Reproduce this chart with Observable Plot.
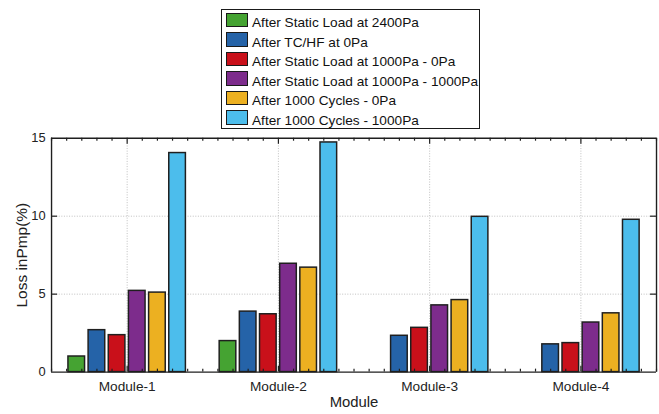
<!DOCTYPE html>
<html>
<head>
<meta charset="utf-8">
<script src="https://cdn.jsdelivr.net/npm/d3@7"></script>
<script src="https://cdn.jsdelivr.net/npm/@observablehq/plot@0.6"></script>
<style>
  html, body { margin: 0; padding: 0; overflow: hidden; background: #fff; }
  #wrap { position: relative; width: 659px; height: 414px; overflow: hidden; font-family: "Liberation Sans", Arial, sans-serif; }
  #chart svg { display: block; }
  #legend { position: absolute; left: 221px; top: 8.5px; width: 259px; height: 120px; box-sizing: border-box; border: 1.3px solid #1a1a1a; background: #fff; }
  .sw { position: absolute; left: 4px; width: 22px; height: 14.5px; box-sizing: border-box; border: 1.4px solid #1a1a1a; }
  .lt { position: absolute; left: 30px; font-size: 13.65px; line-height: 16px; color: #111; white-space: nowrap; }
</style>
</head>
<body>
<div id="wrap">
  <div id="chart"></div>
  <div id="legend"></div>
</div>
<script>
// ---- data ----
const modules = ["Module-1", "Module-2", "Module-3", "Module-4"];
const series = [
  "After Static Load at 2400Pa",
  "After TC/HF at 0Pa",
  "After Static Load at 1000Pa - 0Pa",
  "After Static Load at 1000Pa - 1000Pa",
  "After 1000 Cycles - 0Pa",
  "After 1000 Cycles - 1000Pa"
];
const colors = ["#45a332", "#2563a8", "#c9101a", "#7d2c8c", "#ecb021", "#4cbdec"];
const staticLoad2400 = [1.0, 1.99, null, null];
const tcHf0 = [2.69, 3.88, 2.33, 1.78];
const static1000_0 = [2.37, 3.71, 2.84, 1.86];
const static1000_1000 = [5.21, 6.95, 4.28, 3.18];
const cycles1000_0 = [5.10, 6.70, 4.62, 3.77];
const cycles1000_1000 = [14.05, 14.73, 9.96, 9.77];
const yTicks = [0, 5, 10, 15];
const yLabel = "Loss inPmp(%)";
const xLabel = "Module";

// ---- grouped-bar layout (MATLAB style: 6 bars per group) ----
const seriesValues = [staticLoad2400, tcHf0, static1000_0, static1000_1000, cycles1000_0, cycles1000_1000];
const groupStep = 0.8 / series.length;
const barHalf = 0.055;
const rows = [];
seriesValues.forEach((vals, si) => {
  vals.forEach((v, mi) => {
    if (v == null) return;
    const c = mi + 1 + (si - (series.length - 1) / 2) * groupStep;
    rows.push({series: series[si], module: modules[mi], value: v, x1: c - barHalf, x2: c + barHalf});
  });
});
const xCenters = modules.map((m, i) => i + 1);
const minorX = d3.range(5, 46).map(d => d / 10).filter(d => Math.abs(d - Math.round(d)) > 1e-6);
const innerY = yTicks.filter(d => d > 0 && d < 15);

const ink = "#1f1f1f";
const chart = Plot.plot({
  width: 665,
  height: 414,
  marginLeft: 51.5,
  marginRight: 3,
  marginTop: 139,
  marginBottom: 39,
  x: {domain: [0.5, 4.5], axis: null},
  y: {domain: [0, 15], axis: null},
  color: {domain: series, range: colors},
  style: {fontFamily: '"Liberation Sans", Arial, sans-serif', fontSize: "13.5px", color: "#222", background: "white"},
  marks: [
    // dotted grid
    Plot.ruleY(innerY, {stroke: "#b8b8b8", strokeWidth: 0.9, strokeDasharray: "1,1.6"}),
    Plot.ruleX(xCenters, {stroke: "#b8b8b8", strokeWidth: 0.9, strokeDasharray: "1,1.6"}),
    // bars
    Plot.rectY(rows, {x1: "x1", x2: "x2", y1: 0, y2: "value", fill: "series", stroke: ink, strokeWidth: 1.5}),
    // minor ticks top & bottom
    Plot.ruleX(minorX, {y1: 15, y2: 15 - 0.19, stroke: ink, strokeWidth: 1.2}),
    Plot.ruleX(minorX, {y1: 0, y2: 0.19, stroke: ink, strokeWidth: 1.2}),
    // major x ticks
    Plot.ruleX(xCenters, {y1: 15, y2: 15 - 0.38, stroke: ink, strokeWidth: 1.2}),
    Plot.ruleX(xCenters, {y1: 0, y2: 0.38, stroke: ink, strokeWidth: 1.2}),
    // y ticks left & right
    Plot.ruleY(innerY, {x1: 0.5, x2: 0.54, stroke: ink, strokeWidth: 1.2}),
    Plot.ruleY(innerY, {x1: 4.46, x2: 4.5, stroke: ink, strokeWidth: 1.2}),
    // box
    Plot.ruleY([0, 15], {stroke: ink, strokeWidth: 1.4}),
    Plot.ruleX([0.5, 4.5], {stroke: ink, strokeWidth: 1.4}),
    // tick labels
    Plot.text(yTicks, {x: 0.5, y: d => d, dx: -6, textAnchor: "end", lineAnchor: "middle", text: d => String(d), fontSize: 13, fill: "#222"}),
    Plot.text(modules, {x: (d, i) => i + 1, y: 0, dy: 14.5, lineAnchor: "middle", text: d => d, fontSize: 13.8, fill: "#222"}),
    // axis titles
    Plot.text([xLabel], {frameAnchor: "bottom", dy: 30.6, textAnchor: "middle", lineAnchor: "middle", text: d => d, fontSize: 15, fill: "#222"}),
    Plot.text([yLabel], {frameAnchor: "left", dx: -29.5, rotate: -90, textAnchor: "middle", lineAnchor: "middle", text: d => d, fontSize: 15.6, fill: "#222"})
  ]
});
document.getElementById("chart").appendChild(chart);

// ---- legend ----
const legend = document.getElementById("legend");
const rowStep = 19.55;
series.forEach((s, i) => {
  const sw = document.createElement("div");
  sw.className = "sw";
  sw.style.top = (3.2 + i * rowStep) + "px";
  sw.style.background = colors[i];
  legend.appendChild(sw);
  const t = document.createElement("div");
  t.className = "lt";
  t.style.top = (5.5 + i * rowStep) + "px";
  t.textContent = s;
  legend.appendChild(t);
});
</script>
</body>
</html>
